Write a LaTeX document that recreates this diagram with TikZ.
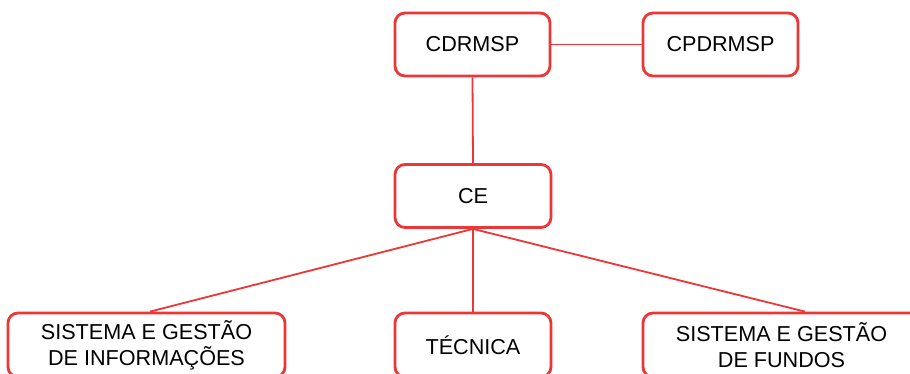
\documentclass[tikz,border=0pt]{standalone}
\usepackage{fontspec}
\setmainfont{Liberation Sans}
\definecolor{boxred}{RGB}{235,55,55}
\tikzset{
  orgbox/.style={draw=boxred, line width=2.8pt, rounded corners=10pt, fill=white,
    minimum height=63pt, inner sep=0pt, align=center, text=black,
    font=\fontsize{21.6}{26}\selectfont},
  link/.style={draw=boxred, line width=1.8pt}
}
\begin{document}
\begin{tikzpicture}[x=1pt,y=-1pt]
\useasboundingbox (0,0) rectangle (910,374);
\clip (0,0) rectangle (910,374);
\node[orgbox, minimum width=155pt] (cdr) at (472.5,44.5) {CDRMSP};
\node[orgbox, minimum width=155pt] (cpd) at (720.5,44.5) {CPDRMSP};
\node[orgbox, minimum width=156pt] (ce) at (473,196) {CE};
\node[orgbox, minimum width=277pt, minimum height=64pt] (sgi) at (146.5,345) {SISTEMA E GESTÃO\\DE INFORMAÇÕES};
\node[orgbox, minimum width=156pt, minimum height=64pt] (tec) at (473,345) {TÉCNICA};
\node[orgbox, minimum width=277pt, minimum height=64pt] (sgf) at (781.5,345) {SISTEMA E GESTÃO\\DE FUNDOS};
\coordinate (sgfin) at ([xshift=23.5pt]sgf.north);
\coordinate (sgiin) at ([xshift=3.5pt]sgi.north);
\draw[link] (cdr.east) -- (cpd.west);
\draw[link] (cdr.south) -- (ce.north);
\draw[link] (ce.south) -- (sgiin);
\draw[link] (ce.south) -- (tec.north);
\draw[link] (ce.south) -- (sgfin);
\end{tikzpicture}
\end{document}
